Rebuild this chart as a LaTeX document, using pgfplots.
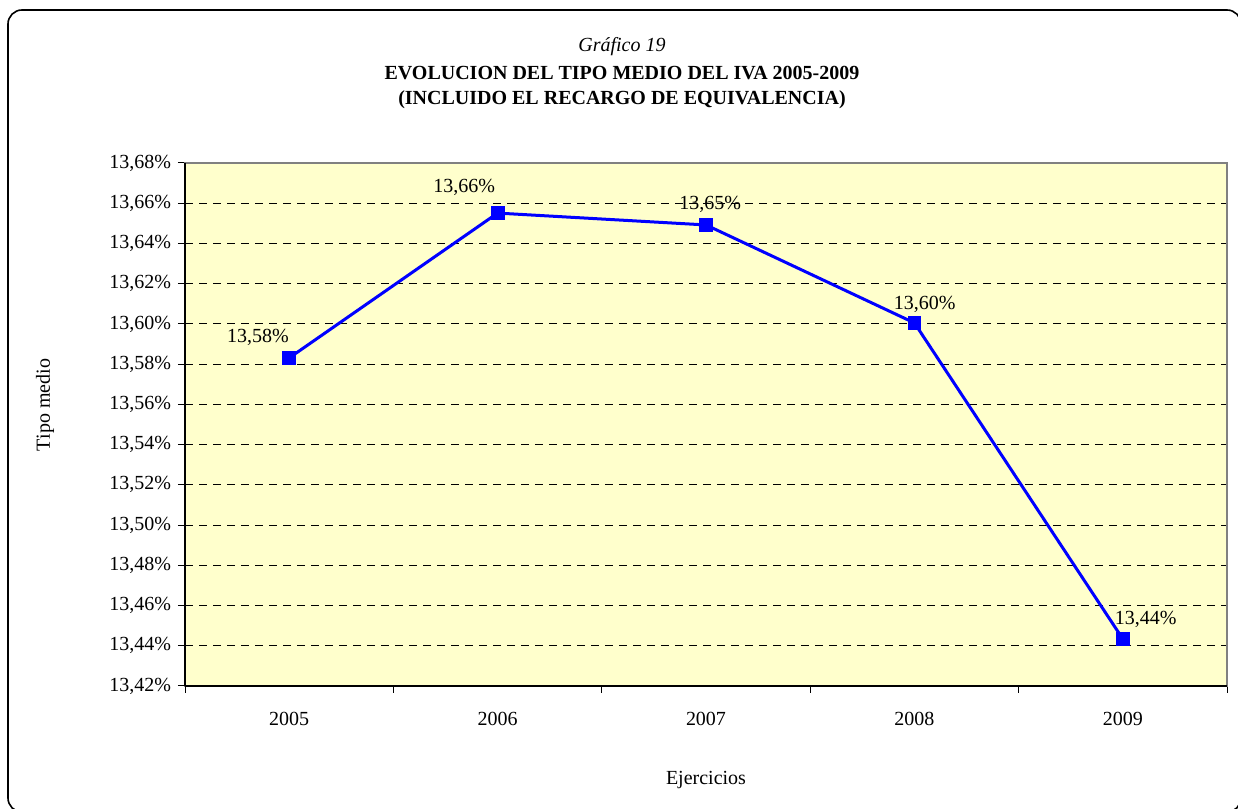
\documentclass[border=0pt]{standalone}
\usepackage{pgfplots}
\pgfplotsset{compat=1.18}
\usepackage{fontspec}
\setmainfont{Liberation Serif}
\definecolor{plotbg}{RGB}{255,255,204}
\definecolor{serie}{RGB}{0,0,255}
\begin{document}
\begin{tikzpicture}
\useasboundingbox (0pt,0pt) rectangle (619pt,404.5pt);
\begin{scope}
\clip (0pt,0pt) rectangle (619pt,404.5pt);
\draw[line width=0.8pt, rounded corners=7pt] (4pt,-1.5pt) rectangle (620.5pt,399.5pt);
\end{scope}
\node[font=\fontsize{10}{12}\selectfont\itshape] at (311pt,381pt) {Gráfico 19};
\node[font=\fontsize{10}{12}\selectfont\bfseries] at (311pt,368pt) {EVOLUCION DEL TIPO MEDIO DEL IVA 2005-2009};
\node[font=\fontsize{10}{12}\selectfont\bfseries] at (311pt,354.5pt) {(INCLUIDO EL RECARGO DE EQUIVALENCIA)};
\node[font=\fontsize{10}{12}\selectfont, rotate=90] at (22.5pt,202pt) {Tipo medio};
\node[font=\fontsize{10}{12}\selectfont] at (353pt,14.5pt) {Ejercicios};
\begin{axis}[
  at={(92.5pt,61.5pt)}, anchor=south west,
  scale only axis, width=521pt, height=261.5pt,
  xmin=-0.5, xmax=4.5, ymin=13.42, ymax=13.68,
  axis background/.style={fill=plotbg},
  axis line style={draw=gray, line width=0.6pt},
  xtick={0,1,2,3,4},
  xticklabels={2005,2006,2007,2008,2009},
  major x tick style={draw=none},
  minor xtick={-0.5,0.5,1.5,2.5,3.5,4.5},
  minor x tick style={draw=black, line width=0.5pt},
  minor tick length=3.5pt,
  ytick={13.42,13.44,13.46,13.48,13.50,13.52,13.54,13.56,13.58,13.60,13.62,13.64,13.66,13.68},
  yticklabels={{13,42\%},{13,44\%},{13,46\%},{13,48\%},{13,50\%},{13,52\%},{13,54\%},{13,56\%},{13,58\%},{13,60\%},{13,62\%},{13,64\%},{13,66\%},{13,68\%}},
  major y tick style={draw=black, line width=0.5pt},
  major tick length=3.5pt,
  tick align=outside,
  ytick pos=left, xtick pos=bottom,
  ymajorgrids,
  major grid style={draw=black, dash pattern=on 4pt off 3pt, line width=0.5pt},
  tick label style={font=\fontsize{10}{12}\selectfont},
  xticklabel style={yshift=-6pt},
  clip=false,
]
\addplot[serie, line width=1.5pt, mark=square*, mark size=3.2pt, mark options={fill=serie, draw=serie, line width=0pt}]
  coordinates {(0,13.5831) (1,13.6551) (2,13.6492) (3,13.6005) (4,13.4434)};
\draw[black, line width=0.6pt] (rel axis cs:0,0) -- (rel axis cs:0,1);
\draw[black, line width=0.6pt] (rel axis cs:0,0) -- (rel axis cs:1,0);
\node[font=\fontsize{10}{12}\selectfont] at (axis cs:-0.15,13.5931) {13,58\%};
\node[font=\fontsize{10}{12}\selectfont] at (axis cs:0.84,13.6680) {13,66\%};
\node[font=\fontsize{10}{12}\selectfont] at (axis cs:2.02,13.6596) {13,65\%};
\node[font=\fontsize{10}{12}\selectfont] at (axis cs:3.05,13.6097) {13,60\%};
\node[font=\fontsize{10}{12}\selectfont] at (axis cs:4.11,13.4530) {13,44\%};
\end{axis}
\end{tikzpicture}
\end{document}
